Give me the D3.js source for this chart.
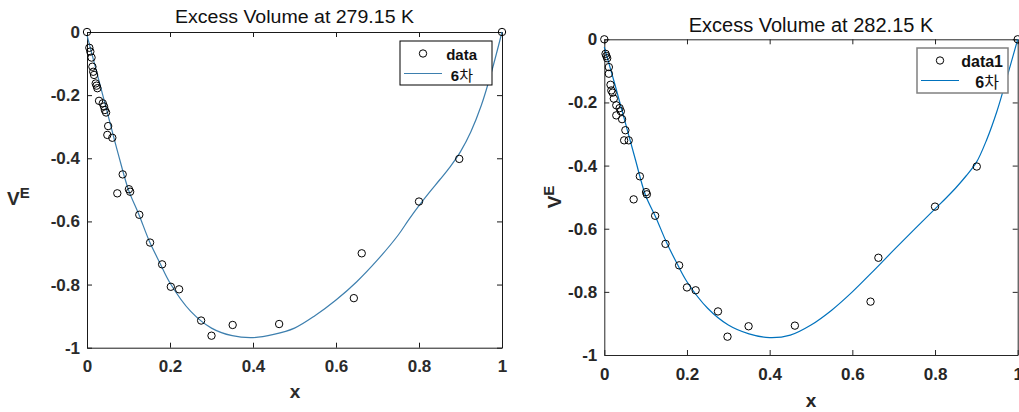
<!DOCTYPE html>
<html>
<head>
<meta charset="utf-8">
<script src="https://cdn.jsdelivr.net/npm/d3@7"></script>
<style>
  body { margin: 0; background: #fff; }
  svg { display: block; font-family: "Liberation Sans", Arial, sans-serif; }
</style>
</head>
<body>
<div id="chart"></div>
<script>
// ticks
var xTicks = [0, 0.2, 0.4, 0.6, 0.8, 1];
var yTicks = [-1, -0.8, -0.6, -0.4, -0.2, 0];

// 279.15 K measurements
var leftX = [0, 0.0056, 0.008, 0.011, 0.013, 0.015, 0.017, 0.021, 0.023, 0.025, 0.029, 0.038, 0.041, 0.043, 0.046, 0.051, 0.049, 0.061, 0.086, 0.073, 0.101, 0.104, 0.126, 0.152, 0.181, 0.202, 0.222, 0.275, 0.300, 0.351, 0.463, 0.643, 0.662, 0.800, 0.897, 1.0];
var leftY = [0, -0.05, -0.062, -0.081, -0.11, -0.126, -0.136, -0.163, -0.17, -0.178, -0.218, -0.226, -0.236, -0.247, -0.255, -0.298, -0.326, -0.335, -0.451, -0.511, -0.498, -0.506, -0.579, -0.667, -0.736, -0.807, -0.815, -0.914, -0.962, -0.928, -0.925, -0.843, -0.701, -0.537, -0.402, 0];
// 6th order fit
var leftFitX = [0, 0.025, 0.05, 0.075, 0.1, 0.125, 0.15, 0.175, 0.2, 0.25, 0.3, 0.35, 0.4, 0.45, 0.5, 0.55, 0.6, 0.65, 0.7, 0.75, 0.775, 0.8, 0.825, 0.85, 0.875, 0.9, 0.925, 0.95, 0.975, 1];
var leftFitY = [-0.01, -0.135, -0.26, -0.385, -0.5, -0.578, -0.662, -0.73, -0.795, -0.885, -0.938, -0.962, -0.968, -0.958, -0.938, -0.898, -0.849, -0.791, -0.722, -0.643, -0.595, -0.55, -0.508, -0.468, -0.427, -0.379, -0.316, -0.233, -0.125, 0];

// 282.15 K measurements
var rightX = [0, 0.003, 0.005, 0.007, 0.011, 0.011, 0.015, 0.017, 0.020, 0.023, 0.029, 0.037, 0.040, 0.029, 0.043, 0.051, 0.048, 0.059, 0.086, 0.071, 0.101, 0.103, 0.123, 0.148, 0.181, 0.200, 0.221, 0.275, 0.298, 0.349, 0.461, 0.644, 0.663, 0.800, 0.901, 1.0];
var rightY = [0, -0.046, -0.053, -0.06, -0.088, -0.109, -0.144, -0.162, -0.169, -0.188, -0.209, -0.218, -0.228, -0.241, -0.253, -0.288, -0.32, -0.32, -0.434, -0.507, -0.484, -0.491, -0.559, -0.648, -0.716, -0.786, -0.795, -0.862, -0.942, -0.909, -0.907, -0.831, -0.692, -0.530, -0.403, 0];
var rightFitX = [0, 0.025, 0.05, 0.075, 0.1, 0.125, 0.15, 0.175, 0.2, 0.25, 0.3, 0.35, 0.4, 0.45, 0.5, 0.55, 0.6, 0.65, 0.7, 0.75, 0.8, 0.825, 0.85, 0.875, 0.9, 0.925, 0.95, 0.975, 1];
var rightFitY = [-0.025, -0.14, -0.26, -0.38, -0.495, -0.565, -0.642, -0.708, -0.768, -0.852, -0.905, -0.933, -0.945, -0.937, -0.905, -0.858, -0.80, -0.735, -0.668, -0.602, -0.537, -0.505, -0.471, -0.433, -0.39, -0.318, -0.227, -0.116, 0];

var svg = d3.select("#chart").append("svg")
  .attr("width", 1019)
  .attr("height", 412);

function fmt(d) {
  return d == 0 ? "0" : String(+d.toFixed(1));
}

function drawPanel(p) {
  var x = d3.scaleLinear().domain([0, 1]).range([p.left, p.right]);
  var y = d3.scaleLinear().domain([-1, 0]).range([p.bottom, p.top]);
  var g = svg.append("g");

  // box + ticks
  g.append("g")
    .attr("transform", `translate(0, ${p.bottom})`)
    .call(d3.axisBottom(x).tickValues(xTicks).tickFormat(fmt).tickSizeInner(-5).tickSizeOuter(0).tickPadding(p.xPad))
    .call(a => a.selectAll("text").attr("font-size", 17).attr("font-weight", "bold").attr("fill", p.textColor).attr("font-family", null));
  g.append("g")
    .attr("transform", `translate(${p.left}, 0)`)
    .call(d3.axisLeft(y).tickValues(yTicks).tickFormat(fmt).tickSizeInner(-5).tickSizeOuter(0).tickPadding(7))
    .call(a => a.selectAll("text").attr("font-size", 17).attr("font-weight", "bold").attr("fill", p.textColor).attr("font-family", null));
  g.append("g")
    .attr("transform", `translate(0, ${p.top})`)
    .call(d3.axisTop(x).tickValues(xTicks).tickFormat("").tickSizeInner(-5).tickSizeOuter(0));
  g.append("g")
    .attr("transform", `translate(${p.right}, 0)`)
    .call(d3.axisRight(y).tickValues(yTicks).tickFormat("").tickSizeInner(-5).tickSizeOuter(0));
  g.selectAll(".domain, .tick line").attr("stroke", p.axisColor);

  // fitted curve
  var line = d3.line()
    .x((d, i) => x(p.fitX[i]))
    .y(d => y(d))
    .curve(d3.curveCatmullRom.alpha(0.5));
  g.append("path")
    .attr("d", line(p.fitY))
    .attr("fill", "none")
    .attr("stroke", p.lineColor)
    .attr("stroke-width", 1.2);

  // measured points
  g.selectAll("circle.pt")
    .data(p.xs).enter()
    .append("circle")
    .attr("class", "pt")
    .attr("cx", d => x(d))
    .attr("cy", (d, i) => y(p.ys[i]))
    .attr("r", 3.7)
    .attr("fill", "none")
    .attr("stroke", "#000")
    .attr("stroke-width", 1);

  // title
  var t = g.append("text")
    .attr("x", (p.left + p.right) / 2)
    .attr("y", p.titleY)
    .attr("text-anchor", "middle")
    .attr("font-size", p.titleSize)
    .attr("fill", "#111")
    .text(p.title);
  if (p.titleLen) t.attr("textLength", p.titleLen).attr("lengthAdjust", "spacingAndGlyphs");

  // x label
  g.append("text")
    .attr("x", p.xLabelX)
    .attr("y", p.xLabelY)
    .attr("text-anchor", "middle")
    .attr("font-size", 19)
    .attr("font-weight", "bold")
    .attr("fill", p.textColor)
    .text("x");

  // y label
  var yl = g.append("text")
    .attr("font-size", 19)
    .attr("font-weight", "bold")
    .attr("fill", p.textColor);
  if (p.rotateY) {
    yl.attr("text-anchor", "middle")
      .attr("transform", `translate(${p.yLabelX}, ${p.yLabelY}) rotate(-90)`);
  } else {
    yl.attr("x", p.yLabelX).attr("y", p.yLabelY);
  }
  yl.append("tspan").text("V");
  yl.append("tspan").attr("font-size", 15).attr("dy", -7).text("E");

  // legend
  var lg = p.legend;
  g.append("rect")
    .attr("x", lg.x).attr("y", lg.y).attr("width", lg.w).attr("height", lg.h)
    .attr("fill", "#fff")
    .attr("stroke", lg.stroke)
    .attr("stroke-width", lg.strokeWidth);
  g.append("circle")
    .attr("cx", lg.x + 23).attr("cy", lg.y + 12.5).attr("r", 3.7)
    .attr("fill", "none").attr("stroke", "#000");
  g.append("text")
    .attr("x", lg.x + lg.w - lg.pad).attr("y", lg.y + 18.5)
    .attr("text-anchor", "end")
    .attr("font-size", lg.fontSize)
    .attr("font-weight", "bold")
    .attr("fill", "#111")
    .text(p.dataName);
  g.append("line")
    .attr("x1", lg.x + 4).attr("x2", lg.x + 42)
    .attr("y1", lg.y + 32.5).attr("y2", lg.y + 32.5)
    .attr("stroke", p.lineColor).attr("stroke-width", 1.2);
  var ft = g.append("text")
    .attr("x", lg.x + lg.w - lg.pad - 4).attr("y", lg.y + 39.5)
    .attr("text-anchor", "end")
    .attr("font-size", lg.fontSize)
    .attr("fill", "#111");
  ft.append("tspan").attr("font-weight", "bold").text("6");
  ft.append("tspan").attr("font-family", "'Noto Sans CJK KR', sans-serif").text("차");
}

drawPanel({
  left: 87, right: 502, top: 32, bottom: 347.7,
  xs: leftX, ys: leftY, fitX: leftFitX, fitY: leftFitY,
  lineColor: "#3d7fae", axisColor: "#1a1a1a", textColor: "#2b2b2b",
  xPad: 12,
  title: "Excess Volume at 279.15 K", titleY: 23, titleSize: 18, titleLen: 239,
  xLabelX: 295, xLabelY: 398,
  yLabelX: 7, yLabelY: 205, rotateY: false,
  dataName: "data",
  legend: { x: 400, y: 41, w: 92, h: 44, stroke: "#000", strokeWidth: 1, fontSize: 15, pad: 15 }
});

drawPanel({
  left: 604.3, right: 1017.7, top: 39.3, bottom: 355,
  xs: rightX, ys: rightY, fitX: rightFitX, fitY: rightFitY,
  lineColor: "#0072BD", axisColor: "#262626", textColor: "#262626",
  xPad: 13,
  title: "Excess Volume at 282.15 K", titleY: 31.5, titleSize: 20,
  xLabelX: 811, xLabelY: 407,
  yLabelX: 561, yLabelY: 197, rotateY: true,
  dataName: "data1",
  legend: { x: 917, y: 48, w: 91, h: 45, stroke: "#808080", strokeWidth: 1.5, fontSize: 16, pad: 5 }
});
</script>
</body>
</html>
